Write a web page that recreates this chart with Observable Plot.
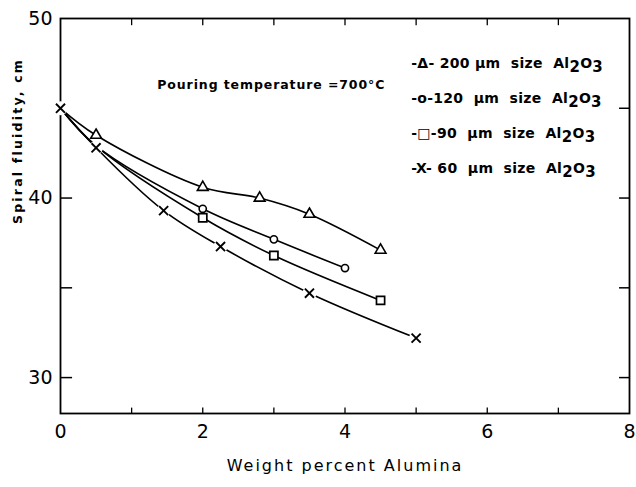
<!DOCTYPE html>
<html><head><meta charset="utf-8">
<script src="https://cdn.jsdelivr.net/npm/d3@7"></script>
<script src="https://cdn.jsdelivr.net/npm/@observablehq/plot@0.6"></script>
<style>body{margin:0;background:#fff} svg{font-family:"DejaVu Sans",sans-serif}</style>
</head><body><div id="chart"></div>
<script>
// Tick values
const xTicks = [0, 2, 4, 6, 8];
const xMinorTicks = [1, 2, 3, 4, 5, 6, 7];
const yTicks = [30, 40, 50];
const yLeftMinor = [30, 35, 40];
const yRightMinor = [30, 35, 40, 45];

// Series (weight % alumina vs spiral fluidity, cm)
const x200 = [0, 0.5, 2, 2.8, 3.5, 4.5];
const y200 = [45, 43.5, 40.6, 40.0, 39.1, 37.1];
const x120 = [0, 0.5, 2, 3, 4];
const y120 = [45, 42.9, 39.4, 37.7, 36.1];
const x90 = [0, 0.5, 2, 3, 4.5];
const y90 = [45, 42.9, 38.9, 36.8, 34.3];
const x60 = [0, 0.5, 1.45, 2.25, 3.5, 5];
const y60 = [45, 42.8, 39.3, 37.3, 34.7, 32.2];

const legendPrefixes = [
  "-\u0394- 200 \u00b5m  size  ",
  "-o-120  \u00b5m  size  ",
  "-\u25a1-90  \u00b5m  size  ",
  "-X- 60  \u00b5m  size  "
];
const legendLabels = legendPrefixes.map(p => p + "Al\u2082O\u2083");
const noteText = "Pouring temperature =700\u00b0C";
const xLabel = "Weight percent Alumina";
const yLabel = "Spiral fluidity, cm";

function rows(xs, ys, name, firstMarker) {
  return xs.map((x, i) => ({x, y: ys[i], series: name, marker: i >= firstMarker}));
}
const r200 = rows(x200, y200, "200", 1);
const r120 = rows(x120, y120, "120", 2);
const r90 = rows(x90, y90, "90", 2);
const r60 = rows(x60, y60, "60", 0);
const all = [...r200, ...r120, ...r90, ...r60];
const m = arr => arr.filter(d => d.marker);

const chart = Plot.plot({
  width: 636,
  height: 487,
  marginLeft: 60,
  marginRight: 7,
  marginTop: 18,
  marginBottom: 74,
  x: {domain: [0, 8]},
  y: {domain: [28, 50]},
  marks: [
    Plot.frame({stroke: "black", strokeWidth: 1.8}),
    Plot.ruleX(xMinorTicks, {x: d => d, y1: 28, y2: 28.3, stroke: "black", strokeWidth: 1.3}),
    Plot.ruleX(xMinorTicks, {x: d => d, y1: 50, y2: 49.6, stroke: "black", strokeWidth: 1.3}),
    Plot.ruleY(yLeftMinor, {y: d => d, x1: 0, x2: 0.17, stroke: "black", strokeWidth: 1.5}),
    Plot.ruleY(yRightMinor, {y: d => d, x1: 8, x2: 7.86, stroke: "black", strokeWidth: 1.5}),
    Plot.axisX(xTicks, {tickSize: 0, tickPadding: 11, fontSize: 19, label: null}),
    Plot.axisY(yTicks, {tickSize: 0, tickPadding: 8, fontSize: 19, label: null}),
    Plot.line(all, {x: "x", y: "y", z: "series", curve: "catmull-rom", stroke: "black", strokeWidth: 1.6}),
    Plot.dot(m(r60), {x: "x", y: "y", r: 7, fill: "white"}),
    Plot.dot(m(r200), {x: "x", y: "y", symbol: "triangle", r: 4, stroke: "black", fill: "white", strokeWidth: 1.6}),
    Plot.dot(m(r120), {x: "x", y: "y", symbol: "circle", r: 3.6, stroke: "black", fill: "white", strokeWidth: 1.6}),
    Plot.dot(m(r90), {x: "x", y: "y", symbol: "square", r: 4.6, stroke: "black", fill: "white", strokeWidth: 1.7}),
    Plot.dot(m(r60), {x: "x", y: "y", symbol: "times", r: 4.2, stroke: "black", strokeWidth: 1.9}),
    Plot.text([noteText], {x: 1.36, y: 46.3, textAnchor: "start", fontSize: 12.5, fontWeight: "bold", fill: "black"}),
    Plot.text(legendLabels, {x: 4.93, y: (d, i) => 47.5 - i * 1.95, textAnchor: "start", fontSize: 14, fontWeight: "bold", fill: "black"}),
    Plot.text([xLabel], {frameAnchor: "bottom", dy: 57, fontSize: 16, fill: "black"}),
    Plot.text([yLabel], {frameAnchor: "left", dx: -43, dy: 8, rotate: -90, fontSize: 12.5, fontWeight: "bold", fill: "black"})
  ]
});
document.getElementById("chart").appendChild(chart);
d3.select(chart).selectAll("text").each(function() {
  const t = this.textContent;
  if (t === noteText) this.setAttribute("letter-spacing", "0.9");
  else if (t === xLabel) this.setAttribute("letter-spacing", "2");
  else if (t === yLabel) this.setAttribute("letter-spacing", "2.2");
  else if (legendLabels.includes(t)) {
    const prefix = legendPrefixes[legendLabels.indexOf(t)];
    const el = d3.select(this);
    el.text(null).attr("letter-spacing", "0.3");
    el.append("tspan").text(prefix + "Al");
    el.append("tspan").attr("dy", 4).attr("font-size", 15).text("2");
    el.append("tspan").attr("dy", -4).text("O");
    el.append("tspan").attr("dy", 4).attr("font-size", 15).text("3");
  }
});
</script>
</body></html>
